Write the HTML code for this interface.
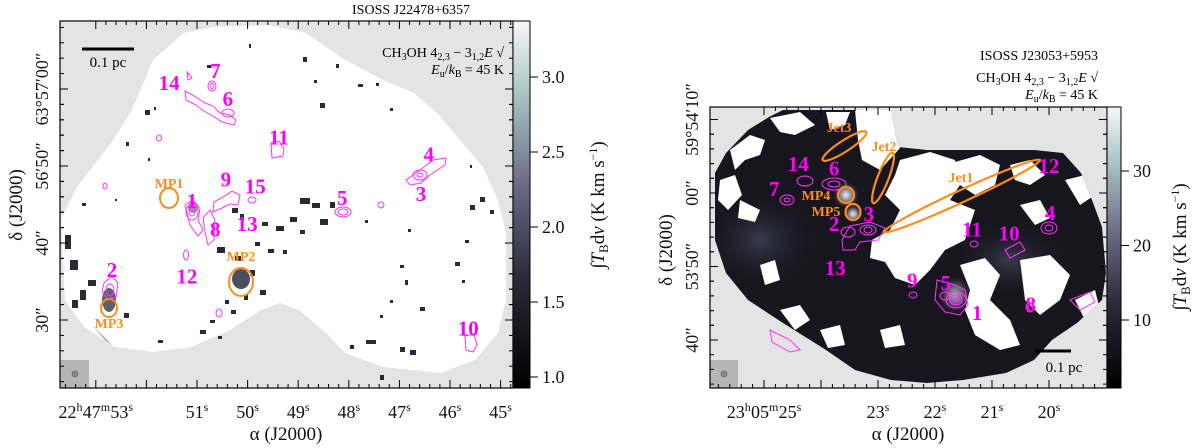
<!DOCTYPE html>
<html><head><meta charset="utf-8"><style>
html,body{margin:0;padding:0;background:#fff;}
svg{display:block;font-family:"Liberation Serif",serif;}
.tk{font-size:17px;fill:#111;}
.src{font-size:21px;fill:#ff00ff;font-weight:bold;}
.mp{font-size:14px;fill:#ff8c1a;font-weight:bold;}
.ct{fill:none;stroke:#ff33ff;stroke-width:1;}
</style></head><body>
<svg id="fig" width="1200" height="448" viewBox="0 0 1200 448" xmlns="http://www.w3.org/2000/svg">
<defs>
<linearGradient id="cbar" x1="0" y1="1" x2="0" y2="0">
<stop offset="0" stop-color="#000"/><stop offset="0.3" stop-color="#2b2a3a"/><stop offset="0.55" stop-color="#6b6a86"/><stop offset="0.8" stop-color="#a9c3c3"/><stop offset="1" stop-color="#f5f8f8"/>
</linearGradient>
<radialGradient id="glow"><stop offset="0" stop-color="#e8eeee"/><stop offset="0.4" stop-color="#8a8aa0"/><stop offset="1" stop-color="#17161e" stop-opacity="0"/></radialGradient>
<radialGradient id="glow2"><stop offset="0" stop-color="#3a3a4c"/><stop offset="1" stop-color="#17161e" stop-opacity="0"/></radialGradient>
<clipPath id="clipL"><rect x="60" y="21" width="453" height="367"/></clipPath>
<clipPath id="clipR"><rect x="710" y="107" width="397" height="281"/></clipPath>
<clipPath id="hullR"><polygon points="726,153 748,130 769,117 783,110 891,110 898,147 927,150 1034,150 1063,153 1081,173 1092,200 1102,227 1106,273 1102,300 1077,323 1052,340 1034,360 1006,373 963,380 927,383 891,380 855,370 826,350 783,323 748,300 726,273 715,240 715,173"/></clipPath>
</defs>

<!-- LEFT PANEL -->
<g id="left">
<g clip-path="url(#clipL)">
<rect x="60" y="21" width="453" height="367" fill="#e4e4e4"/>
<polygon fill="#fff" points="61,220 77,187 111,143 132,110 153,60 184,33 215,27 268,25 306,33 345,60 383,80 414,93 437,113 460,140 483,167 498,200 506,233 506,300 498,333 475,360 441,373 383,367 345,353 326,333 299,310 280,303 261,310 230,330 192,347 153,352 115,347 84,327 65,300"/>
<g id="specks" fill="#2a2a36"></g>
<ellipse cx="193" cy="207" rx="5" ry="6" fill="#8a98a0"/>
<ellipse cx="241" cy="279" rx="9" ry="10" fill="#4a5060"/>
<ellipse cx="109" cy="300" rx="7" ry="12" fill="#5a6470"/>
<polygon points="92,325 105,340 112,345 100,333" fill="#8a9aa0"/>
<rect x="60" y="360" width="29" height="28" fill="#b5b5b5"/>
<ellipse cx="75" cy="374" rx="3" ry="3" fill="#888" stroke="#666" stroke-width="0.7"/>
<g>
<path class="ct" d="M185,91 L196,97 L205,103 L213,106 L220,113 L230,115 L236,120 L234,125 L222,122 L213,116 L204,111 L196,105 L186,100 Z"/>
<ellipse class="ct" cx="228" cy="113" rx="6" ry="4"/>
<ellipse class="ct" cx="212" cy="86" rx="4" ry="5"/>
<ellipse class="ct" cx="212" cy="86" rx="2" ry="2.5"/>
<path class="ct" d="M187,72 L192,78 L188,80 Z"/>
<path class="ct" d="M271,143 L279,141 L284,149 L283,156 L272,158 Z"/>
<path class="ct" d="M406,180 L420,170 L433,160 L446,158 L445,165 L430,175 L421,183 L410,185 Z"/>
<ellipse class="ct" cx="420" cy="175" rx="7" ry="5"/>
<ellipse class="ct" cx="420" cy="175" rx="3" ry="2"/>
<ellipse class="ct" cx="343" cy="212" rx="8" ry="5"/>
<ellipse class="ct" cx="343" cy="212" rx="5" ry="3"/>
<path class="ct" d="M214,202 L225,196 L232,191 L240,195 L238,205 L230,204 L222,208 L213,212 Z"/>
<path class="ct" d="M185,205 L192,200 L200,208 L198,220 L203,230 L198,236 L190,225 Z"/>
<ellipse class="ct" cx="192" cy="212" rx="6" ry="8"/>
<ellipse class="ct" cx="192" cy="212" rx="3" ry="4"/>
<path class="ct" d="M203,218 L210,210 L215,220 L214,240 L208,245 L205,232 Z"/>
<path class="ct" d="M104,283 L112,276 L118,283 L116,297 L108,299 L102,292 Z"/>
<ellipse class="ct" cx="110" cy="290" rx="4" ry="6"/>
<ellipse class="ct" cx="186" cy="255" rx="2.5" ry="5"/>
<path class="ct" d="M465,336 L474,334 L477,345 L473,352 L466,350 Z"/>
<ellipse class="ct" cx="252" cy="200" rx="4" ry="3"/>
<ellipse class="ct" cx="219" cy="313" rx="3" ry="4"/>
<ellipse class="ct" cx="381" cy="205" rx="3" ry="3"/>
<ellipse class="ct" cx="159" cy="138" rx="2.5" ry="3"/>
<ellipse class="ct" cx="105" cy="186" rx="2" ry="3"/>
</g>
<g id="srcL"></g>
<g fill="none" stroke="#ff8c1a" stroke-width="2">
<ellipse cx="169" cy="198" rx="9" ry="10"/>
<ellipse cx="241" cy="282" rx="12" ry="14"/>
<ellipse cx="109" cy="308" rx="8" ry="9"/>
</g>
<text class="mp" x="169" y="188" text-anchor="middle">MP1</text>
<text class="mp" x="241" y="261" text-anchor="middle">MP2</text>
<text class="mp" x="109" y="328" text-anchor="middle">MP3</text>
<line x1="82" y1="49" x2="134" y2="49" stroke="#000" stroke-width="3"/>
<text x="108" y="67" text-anchor="middle" style="font-size:15px">0.1 pc</text>
<text x="504" y="57" text-anchor="end" style="font-size:14px">CH<tspan dy="3" font-size="10">3</tspan><tspan dy="-3">OH 4</tspan><tspan dy="3" font-size="10">2,3</tspan><tspan dy="-3"> − 3</tspan><tspan dy="3" font-size="10">1,2</tspan><tspan dy="-3" font-style="italic">E</tspan> √</text>
<text x="504" y="74" text-anchor="end" style="font-size:14px"><tspan font-style="italic">E</tspan><tspan dy="3" font-size="10">u</tspan><tspan dy="-3">/</tspan><tspan font-style="italic">k</tspan><tspan dy="3" font-size="10">B</tspan><tspan dy="-3"> = 45 K</tspan></text>
</g>
<rect x="60" y="21" width="453" height="367" fill="none" stroke="#000" stroke-width="1.2"/>
<g id="ticksL" stroke="#000" stroke-width="1"></g>
<rect x="513" y="21" width="17" height="367" fill="url(#cbar)" stroke="#000" stroke-width="1"/>
<g id="cbL"></g>
<text x="470" y="14" text-anchor="end" style="font-size:14px">ISOSS J22478+6357</text>
<text x="286" y="440" text-anchor="middle" class="tk" style="font-size:19px">α (J2000)</text>
<text transform="translate(22,205) rotate(-90)" text-anchor="middle" class="tk" style="font-size:19px">δ (J2000)</text>
<text transform="translate(604,205) rotate(-90)" text-anchor="middle" class="tk" style="font-size:19px">∫<tspan font-style="italic">T</tspan><tspan dy="4" font-size="13">B</tspan><tspan dy="-4">d</tspan><tspan font-style="italic">v</tspan> (K km s<tspan dy="-7" font-size="12">−1</tspan><tspan dy="7">)</tspan></text>
</g>

<!-- RIGHT PANEL -->
<g id="right">
<g clip-path="url(#clipR)">
<rect x="710" y="107" width="397" height="281" fill="#e4e4e4"/>
<g clip-path="url(#hullR)">
<rect x="700" y="100" width="420" height="300" fill="#17161e"/>
<ellipse cx="760" cy="240" rx="60" ry="50" fill="url(#glow2)"/>
<ellipse cx="1010" cy="260" rx="60" ry="40" fill="url(#glow2)"/>
<ellipse cx="846" cy="195" rx="14" ry="14" fill="url(#glow)"/>
<ellipse cx="853" cy="214" rx="10" ry="10" fill="url(#glow)"/>
<ellipse cx="955" cy="295" rx="18" ry="20" fill="url(#glow)" opacity="0.7"/>
<g fill="#fff">
<polygon points="730,150 750,135 765,140 760,155 745,160 735,170"/>
<polygon points="770,118 800,112 815,125 795,135 780,132"/>
<polygon points="826,112 850,112 845,125 830,130"/>
<polygon points="855,110 895,110 900,148 880,170 862,160 858,140"/>
<polygon points="720,180 735,175 742,195 728,210 718,200"/>
<polygon points="740,200 760,210 755,222 738,218"/>
<polygon points="900,160 930,152 955,160 960,185 950,200 975,210 965,240 945,250 930,270 915,285 895,278 885,262 870,258 872,240 890,230 900,210 885,195 895,175"/>
<polygon points="955,162 980,155 1000,165 995,185 975,195 960,185"/>
<polygon points="1010,165 1030,160 1045,175 1030,185 1015,180"/>
<polygon points="1020,205 1040,200 1050,218 1035,225"/>
<polygon points="960,265 985,258 1000,275 990,300 1010,320 1020,345 1000,350 975,335 965,310 970,290"/>
<polygon points="1020,260 1050,255 1070,275 1060,300 1040,315 1025,300"/>
<polygon points="1065,180 1085,175 1095,195 1080,205"/>
<polygon points="780,310 800,305 810,320 795,330"/>
<polygon points="820,330 840,325 845,345 828,348"/>
<polygon points="880,330 900,325 905,345 885,348"/>
<polygon points="760,265 775,260 780,280 765,285"/>
<polygon points="1075,300 1095,290 1100,310 1085,320"/>
</g>
</g>
<rect x="710" y="360" width="28" height="28" fill="#b5b5b5"/>
<ellipse cx="724" cy="374" rx="3" ry="3" fill="#888" stroke="#666" stroke-width="0.7"/>
<g>
<ellipse class="ct" cx="834" cy="184" rx="12" ry="6"/><ellipse class="ct" cx="834" cy="184" rx="6" ry="3"/>
<ellipse class="ct" cx="787" cy="200" rx="7" ry="5"/><ellipse class="ct" cx="787" cy="200" rx="3" ry="2"/>
<ellipse class="ct" cx="805" cy="181" rx="8" ry="5"/>
<path class="ct" d="M842,240 L850,226 L870,222 L885,228 L878,240 L860,242 L855,250 L843,250 Z"/>
<ellipse class="ct" cx="848" cy="232" rx="7" ry="5"/><ellipse class="ct" cx="868" cy="230" rx="8" ry="5"/><ellipse class="ct" cx="868" cy="230" rx="4" ry="3"/>
<path class="ct" d="M937,280 L955,285 L965,290 L968,305 L960,315 L945,312 L935,300 Z"/>
<ellipse class="ct" cx="956" cy="300" rx="10" ry="8"/><ellipse class="ct" cx="956" cy="300" rx="6" ry="5"/><ellipse class="ct" cx="956" cy="300" rx="3" ry="2"/>
<ellipse class="ct" cx="945" cy="296" rx="5" ry="4"/>
<ellipse class="ct" cx="1049" cy="228" rx="8" ry="6"/><ellipse class="ct" cx="1049" cy="228" rx="4" ry="3"/>
<ellipse class="ct" cx="1030" cy="307" rx="4" ry="5"/>
<path class="ct" d="M1005,250 L1020,242 L1025,250 L1010,258 Z"/>
<ellipse class="ct" cx="913" cy="295" rx="4" ry="3"/>
<ellipse class="ct" cx="974" cy="244" rx="4" ry="3"/>
<path class="ct" d="M770,330 L790,340 L800,350 L790,352 L772,342 Z"/>
<path class="ct" d="M1070,300 L1090,292 L1095,302 L1080,310 Z"/>
</g>
<g fill="none" stroke="#ff8c1a" stroke-width="2.2">
<ellipse cx="844.5" cy="146" rx="26" ry="5.5" transform="rotate(-33 844.5 146)"/>
<ellipse cx="883" cy="178" rx="27" ry="5.5" transform="rotate(-69 883 178)"/>
<ellipse cx="962" cy="196" rx="86" ry="6" transform="rotate(-24.8 962 196)"/>
<ellipse cx="846" cy="195" rx="8" ry="8"/>
<ellipse cx="853" cy="212" rx="7.5" ry="8"/>
</g>
<text class="mp" x="839" y="132" text-anchor="middle">Jet3</text>
<text class="mp" x="884" y="151" text-anchor="middle">Jet2</text>
<text class="mp" x="961" y="182" text-anchor="middle">Jet1</text>
<text class="mp" x="816" y="200" text-anchor="middle">MP4</text>
<text class="mp" x="826" y="216" text-anchor="middle">MP5</text>
<g id="srcR"></g>
<line x1="1035" y1="351" x2="1071" y2="351" stroke="#000" stroke-width="3"/>
<text x="1064" y="372" text-anchor="middle" style="font-size:15px">0.1 pc</text>
</g>
<rect x="710" y="107" width="397" height="281" fill="none" stroke="#000" stroke-width="1.2"/>
<g id="ticksR" stroke="#000" stroke-width="1"></g>
<rect x="1107" y="107" width="14" height="281" fill="url(#cbar)" stroke="#000" stroke-width="1"/>
<g id="cbR"></g>
<text x="1098" y="60" text-anchor="end" style="font-size:14px">ISOSS J23053+5953</text>
<text x="1098" y="82" text-anchor="end" style="font-size:14px">CH<tspan dy="3" font-size="10">3</tspan><tspan dy="-3">OH 4</tspan><tspan dy="3" font-size="10">2,3</tspan><tspan dy="-3"> − 3</tspan><tspan dy="3" font-size="10">1,2</tspan><tspan dy="-3" font-style="italic">E</tspan> √</text>
<text x="1098" y="99" text-anchor="end" style="font-size:14px"><tspan font-style="italic">E</tspan><tspan dy="3" font-size="10">u</tspan><tspan dy="-3">/</tspan><tspan font-style="italic">k</tspan><tspan dy="3" font-size="10">B</tspan><tspan dy="-3"> = 45 K</tspan></text>
<text x="908" y="440" text-anchor="middle" class="tk" style="font-size:19px">α (J2000)</text>
<text transform="translate(672,250) rotate(-90)" text-anchor="middle" class="tk" style="font-size:19px">δ (J2000)</text>
<text transform="translate(1186,247) rotate(-90)" text-anchor="middle" class="tk" style="font-size:19px">∫<tspan font-style="italic">T</tspan><tspan dy="4" font-size="13">B</tspan><tspan dy="-4">d</tspan><tspan font-style="italic">v</tspan> (K km s<tspan dy="-7" font-size="12">−1</tspan><tspan dy="7">)</tspan></text>
</g>
</svg>
<script>
// ---- data ----
const raTicksL = [53,52,51,50,49,48,47,46,45];
const raLabelsL = ["22h47m53s","","51s","50s","49s","48s","47s","46s","45s"];
const decTicksL = [60,50,40,30];
const decLabelsL = ["63°57′00″","56′50″","40″","30″"];
const cbTicksL = [1.0,1.5,2.0,2.5,3.0];
const cbLabelsL = ["1.0","1.5","2.0","2.5","3.0"];
const raTicksR = [25,24,23,22,21,20];
const raLabelsR = ["23h05m25s","","23s","22s","21s","20s"];
const decTicksR = [70,60,50,40];
const decLabelsR = ["59°54′10″","00″","53′50″","40″"];
const cbTicksR = [10,20,30];
const cbLabelsR = ["10","20","30"];
// source labels: name, RA seconds, Dec arcsec offset
const srcNamesL = ["14","7","6","11","4","3","9","15","5","1","8","13","12","2","10"];
const srcRaL = [51.55,50.64,50.39,49.38,46.42,46.57,50.43,49.85,48.13,51.1,50.64,50.01,51.2,52.68,45.64];
const srcDecL = [60.9,62.5,58.8,53.8,51.6,46.5,48.4,47.5,46.0,45.6,41.9,42.6,35.8,36.6,29.0];
const srcNamesR = ["14","6","7","2","3","13","9","5","1","8","11","10","4","12"];
const srcRaR = [24.40,23.77,24.82,23.77,23.16,23.75,22.40,21.81,21.26,20.32,21.35,20.70,19.98,20.0];
const srcDecR = [64.1,63.5,60.7,55.9,57.3,49.9,48.2,47.9,43.8,45.0,55.2,54.6,57.4,63.8];

// ---- axes ----
const xL = s => 197 + (51 - s) * 50.6;
const yL = d => 320 - (d - 30) * 7.7;
const cyL = v => 377 - (v - 1) * 150;
const xR = s => 878 + (23 - s) * 57;
const yR = d => 193 + (60 - d) * 7.35;
const cyR = v => 320 - (v - 10) * 7.45;
const NS = "http://www.w3.org/2000/svg";
function mk(tag, attrs, parent, txt){const e=document.createElementNS(NS,tag);for(const k in attrs)e.setAttribute(k,attrs[k]);if(txt!==undefined)e.textContent=txt;parent.appendChild(e);return e;}
function raText(t, lab){
  const re=/(\d+)([hms])/g; let m;
  while((m=re.exec(lab))){
    mk('tspan',{},t,m[1]);
    mk('tspan',{dy:-7,'font-size':12},t,m[2]);
    mk('tspan',{dy:7,'font-size':1},t,' ');
  }
}
function axes(g, xf, yf, raT, raLab, decT, decLab, x0, x1, y0, y1, raStep){
  for(let i=0;i<raT.length;i++){
    const x=xf(raT[i]);
    const t1=mk('line',{x1:x,y1:y1,x2:x,y2:y1-8},g);
    
    
    mk('line',{x1:x,y1:y0,x2:x,y2:y0+8},g);
    for(let k=1;k<5;k++){const xm=xf(raT[i]-k*raStep);if(xm>x0&&xm<x1){mk('line',{x1:xm,y1:y1,x2:xm,y2:y1-4},g);mk('line',{x1:xm,y1:y0,x2:xm,y2:y0+4},g);}}
    if(i===0){for(let k=1;k<5;k++){const xm=xf(raT[0]+k*raStep);if(xm>x0)mk('line',{x1:xm,y1:y1,x2:xm,y2:y1-4},g);}}
    if(raLab[i]){const t=mk('text',{x:x,y:y1+30,'text-anchor':'middle','class':'tk',stroke:'none',style:'font-size:18px'},g);
      raText(t,raLab[i]);
      
      }
  }
  for(let i=0;i<decT.length;i++){
    const y=yf(decT[i]);
    const t1=mk('line',{x1:x0,y1:y,x2:x0+8,y2:y},g);
    
    
    mk('line',{x1:x1,y1:y,x2:x1-8,y2:y},g);
    for(let k=-4;k<5;k++){if(k===0)continue;const ym=yf(decT[i]+k*2);if(ym>y0&&ym<y1){mk('line',{x1:x0,y1:ym,x2:x0+4,y2:ym},g);mk('line',{x1:x1,y1:ym,x2:x1-4,y2:ym},g);}}
    const t=mk('text',{transform:`translate(${x0-12},${y}) rotate(-90)`,'text-anchor':'middle','class':'tk',stroke:'none',style:'font-size:18px'},g,decLab[i]);
    
    
  }
}
axes(document.getElementById('ticksL'),xL,yL,raTicksL,raLabelsL,decTicksL,decLabelsL,60,513,21,388,0.2);
axes(document.getElementById('ticksR'),xR,yR,raTicksR,raLabelsR,decTicksR,decLabelsR,710,1107,107,388,0.2);
function cbar(g,f,ticks,labs,x){
  for(let i=0;i<ticks.length;i++){const y=f(ticks[i]);
    const l=mk('line',{x1:x,y1:y,x2:x+8,y2:y,stroke:'#000'},g);
    
    
    const t=mk('text',{x:x+12,y:y+6,'class':'tk',style:'font-size:18px'},g,labs[i]);
    
    }
}
cbar(document.getElementById('cbL'),cyL,cbTicksL,cbLabelsL,530);
cbar(document.getElementById('cbR'),cyR,cbTicksR,cbLabelsR,1121);
function srcs(g,names,ra,dec,xf,yf){
  for(let i=0;i<names.length;i++){
    const t=mk('text',{x:xf(ra[i]),y:yf(dec[i])+8,'text-anchor':'middle','class':'src'},g,names[i]);
    
    
  }
}
srcs(document.getElementById('srcL'),srcNamesL,srcRaL,srcDecL,xL,yL);
srcs(document.getElementById('srcR'),srcNamesR,srcRaR,srcDecR,xR,yR);
// decorative noise specks in left map
const sp=[[303,57,4,5],[336,64,3,4],[249,44,2,4],[314,80,3,3],[358,84,5,3],[376,83,3,3],[320,103,5,5],[390,108,3,3],[207,65,4,3],[145,110,5,5],[154,107,2,3],[126,142,3,4],[148,158,2,3],[82,203,4,3],[115,199,2,2],[300,198,10,6],[312,203,8,5],[330,202,5,6],[290,217,7,5],[320,219,8,6],[262,222,6,4],[276,226,8,5],[300,230,5,4],[232,208,6,5],[240,214,4,6],[255,242,5,4],[268,249,6,4],[283,250,4,4],[217,247,8,6],[235,256,6,5],[250,270,5,6],[260,290,6,5],[225,300,4,4],[231,310,5,4],[210,320,5,3],[244,295,4,5],[365,220,3,3],[400,265,4,3],[405,280,3,5],[390,300,3,3],[420,307,5,4],[380,315,3,3],[470,205,5,5],[480,197,5,5],[490,210,4,4],[465,240,4,3],[455,262,5,4],[462,280,3,3],[366,340,10,4],[350,345,4,4],[400,347,5,5],[410,350,6,5],[380,375,4,5],[470,165,2,3],[408,229,3,3],[200,330,6,4],[218,336,4,3],[158,340,5,3],[65,235,6,14],[70,260,8,10],[80,290,6,10],[72,300,6,8],[88,280,8,6],[124,313,5,5]];
const gS=document.getElementById('specks');
for(const s of sp){mk('rect',{x:s[0],y:s[1],width:s[2],height:s[3]},gS);}
</script>
</body></html>
